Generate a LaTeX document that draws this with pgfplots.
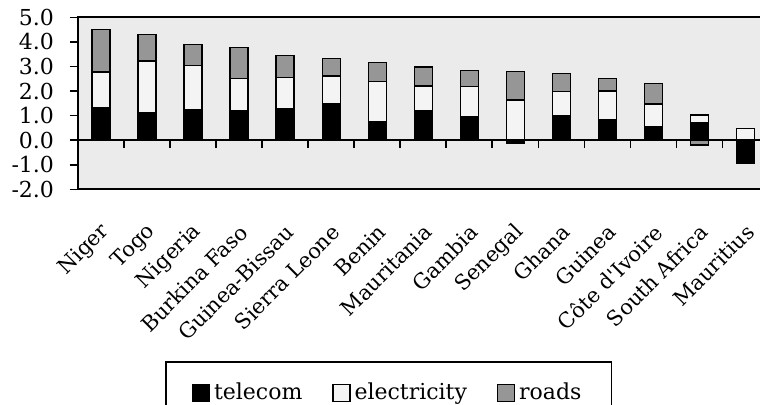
\documentclass[border=0pt]{standalone}
\usepackage{pgfplots}
\pgfplotsset{compat=1.18}
\usepackage{pgfplotstable}
\usepackage{fontspec}
\setmainfont{DejaVu Serif}
\definecolor{bgc}{HTML}{EBEBEB}
\definecolor{elc}{HTML}{F4F4F4}
\definecolor{rdc}{HTML}{969696}

% positive parts (tp, ep, rp) and negative parts (tn, en, rn)
\pgfplotstableread{
x  tp   ep   rp   tn    en  rn
0  1.33 1.45 1.72 0     0   0
1  1.13 2.10 1.07 0     0   0
2  1.22 1.81 0.86 0     0   0
3  1.18 1.32 1.27 0     0   0
4  1.29 1.26 0.90 0     0   0
5  1.49 1.12 0.71 0     0   0
6  0.77 1.62 0.77 0     0   0
7  1.21 0.99 0.77 0     0   0
8  0.96 1.22 0.66 0     0   0
9  0    1.63 1.17 -0.12 0   0
10 0.99 1.00 0.72 0     0   0
11 0.83 1.17 0.50 0     0   0
12 0.54 0.93 0.84 0     0   0
13 0.72 0.30 0    0     0   -0.20
14 0    0.48 0    -0.85 0   -0.08
}\data

\pgfplotsset{
  frame/.style={
    scale only axis, width=345.3pt, height=86pt,
    xmin=-0.5, xmax=14.5, ymin=-2, ymax=5,
  },
  common/.style={frame, ybar stacked, bar width=9pt},
  barT/.style={fill=black, draw=black, line width=0.7pt},
  barE/.style={fill=elc, draw=black, line width=0.7pt},
  barR/.style={fill=rdc, draw=black, line width=0.7pt},
  sq/.style={legend image code/.code={\draw[##1,line width=0.7pt] (0pt,-4.2pt) rectangle (8.4pt,4.2pt);}},
}

\begin{document}
\begin{tikzpicture}
\begin{axis}[common, name=ax,
  axis background/.style={fill=bgc},
  axis line style={line width=0.9pt},
  ytick={-2,-1,0,1,2,3,4,5},
  ytick pos=left, tick align=outside, major tick length=4pt,
  y tick style={line width=0.8pt, black},
  x tick style={draw=none},
  xtick={0,...,14},
  xticklabels={Niger,Togo,Nigeria,Burkina Faso,Guinea-Bissau,Sierra Leone,Benin,Mauritania,Gambia,Senegal,Ghana,Guinea,C\^ote d\textquotesingle Ivoire,South Africa,Mauritius},
  xticklabel style={xshift=2.5pt, yshift=-15.5pt, rotate=45, anchor=east, font=\fontsize{10.5}{12}\selectfont, inner sep=0pt},
  yticklabel style={xshift=-4.5pt, font=\fontsize{11}{13}\selectfont, /pgf/number format/.cd, fixed, fixed zerofill, precision=1},
  /pgf/number format/assume math mode=true,
  legend columns=3,
  legend style={at={(0.126,-1.0)}, anchor=north west, draw=black, line width=0.8pt,
    font=\fontsize{11}{13}\selectfont, inner xsep=13pt, inner ysep=8.5pt,
    /tikz/every even column/.append style={column sep=13pt}},
]
\addplot[barT, sq] table[x=x, y=tp] {\data};
\addplot[barE, sq] table[x=x, y=ep] {\data};
\addplot[barR, sq] table[x=x, y=rp] {\data};
\legend{telecom, electricity, roads}
\end{axis}
% category axis at zero with ticks between the categories
\begin{axis}[frame, axis x line*=middle, axis y line=none,
  xtick={0.5,1.5,...,13.5}, xticklabels={}, ytick=\empty,
  tick align=outside, major tick length=4pt,
  x tick style={line width=0.9pt, black},
  x axis line style={line width=0.7pt, black}]
\end{axis}
\begin{axis}[common, hide axis]
\addplot[barT] table[x=x, y=tn] {\data};
\addplot[barE] table[x=x, y=en] {\data};
\addplot[barR] table[x=x, y=rn] {\data};
\end{axis}
\pgfresetboundingbox
\path[use as bounding box] ([xshift=-39pt,yshift=8.65pt]ax.north west) rectangle ++(380pt,-202pt);
\end{tikzpicture}
\end{document}
